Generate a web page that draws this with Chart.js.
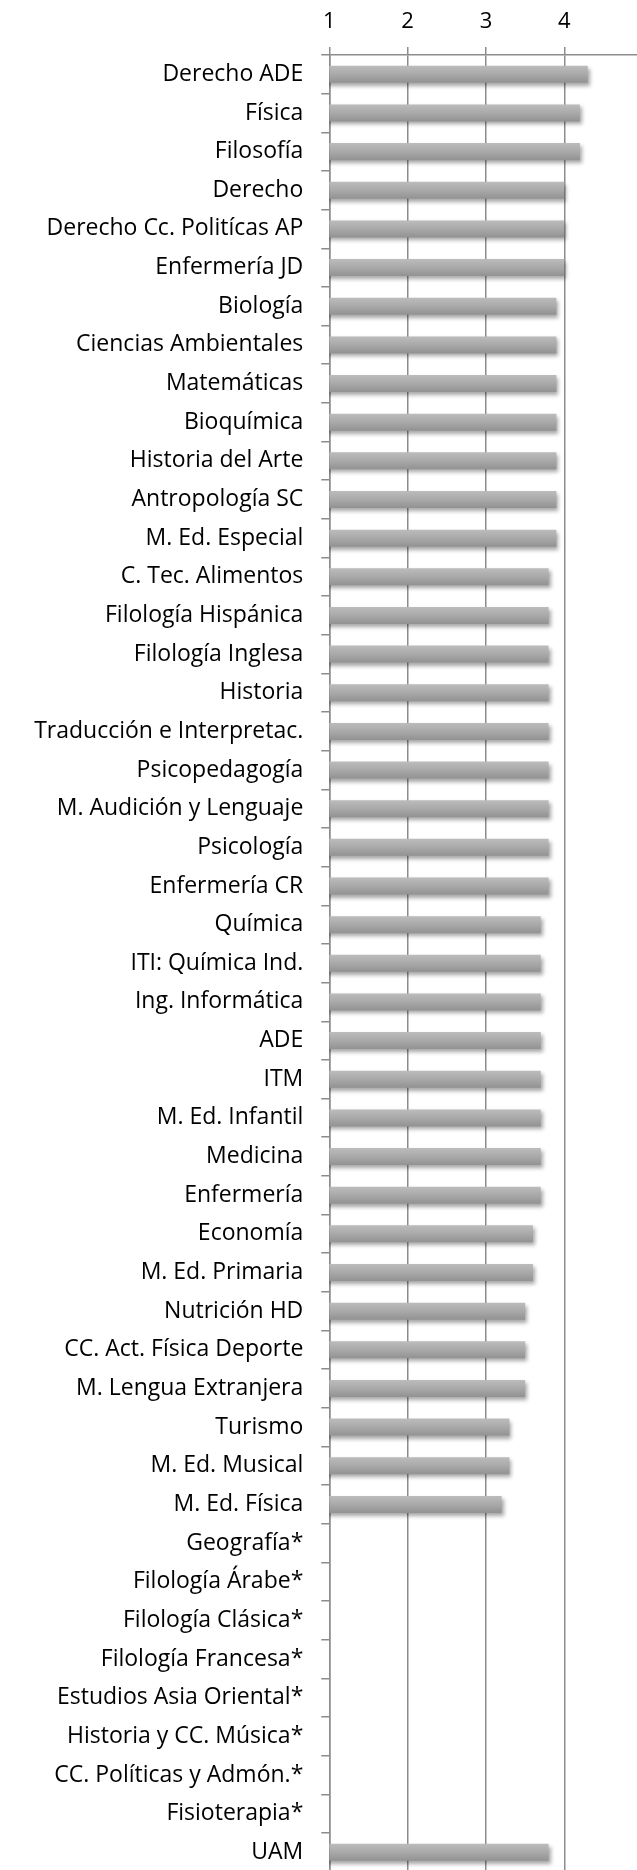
<!DOCTYPE html>
<html>
<head>
<meta charset="utf-8">
<script src="https://cdn.jsdelivr.net/npm/chart.js@4.4.0/dist/chart.umd.min.js"></script>
<style>
  html, body { margin:0; padding:0; background:#fff; overflow:hidden; }
  #wrap { width:637px; height:1870px; overflow:hidden; }
  canvas { display:block; }
</style>
</head>
<body>
<div id="wrap"><canvas id="c" width="660" height="1880" style="width:660px;height:1880px"></canvas></div>
<script>
const carreras = [
  'Derecho ADE', 'Física', 'Filosofía', 'Derecho', 'Derecho Cc. Politícas AP',
  'Enfermería JD', 'Biología', 'Ciencias Ambientales', 'Matemáticas', 'Bioquímica',
  'Historia del Arte', 'Antropología SC', 'M. Ed. Especial', 'C. Tec. Alimentos',
  'Filología Hispánica', 'Filología Inglesa', 'Historia', 'Traducción e Interpretac.',
  'Psicopedagogía', 'M. Audición y Lenguaje', 'Psicología', 'Enfermería CR', 'Química',
  'ITI: Química Ind.', 'Ing. Informática', 'ADE', 'ITM', 'M. Ed. Infantil', 'Medicina',
  'Enfermería', 'Economía', 'M. Ed. Primaria', 'Nutrición HD', 'CC. Act. Física Deporte',
  'M. Lengua Extranjera', 'Turismo', 'M. Ed. Musical', 'M. Ed. Física', 'Geografía*',
  'Filología Árabe*', 'Filología Clásica*', 'Filología Francesa*', 'Estudios Asia Oriental*',
  'Historia y CC. Música*', 'CC. Políticas y Admón.*', 'Fisioterapia*', 'UAM'
];
const valores = [
  4.3, 4.2, 4.2, 4.0, 4.0,
  4.0, 3.9, 3.9, 3.9, 3.9,
  3.9, 3.9, 3.9, 3.8,
  3.8, 3.8, 3.8, 3.8,
  3.8, 3.8, 3.8, 3.8, 3.7,
  3.7, 3.7, 3.7, 3.7, 3.7, 3.7,
  3.7, 3.6, 3.6, 3.5, 3.5,
  3.5, 3.3, 3.3, 3.2, null,
  null, null, null, null,
  null, null, null, 3.8
];
const escalaMin = 1;
const escalaMax = 5;

const gris = '#8c8c8c';

// sombra de las barras (estilo Excel)
const sombra = {
  id: 'sombra',
  beforeDatasetsDraw(chart) {
    const c = chart.ctx;
    c.save();
    c.shadowColor = 'rgba(0,0,0,0.35)';
    c.shadowBlur = 4;
    c.shadowOffsetX = 2;
    c.shadowOffsetY = 3;
  },
  afterDatasetsDraw(chart) { chart.ctx.restore(); }
};

function degradado(ctx) {
  const ch = ctx.chart;
  const y = ch.scales && ch.scales.y;
  if (!y || ctx.type !== 'data') return '#a8a8a8';
  const py = y.getPixelForValue(ctx.dataIndex);
  if (!Number.isFinite(py)) return '#a8a8a8';
  const g = ch.ctx.createLinearGradient(0, py - 8.5, 0, py + 8.5);
  g.addColorStop(0, '#bcbcbc');
  g.addColorStop(0.5, '#a9a9a9');
  g.addColorStop(1, '#929292');
  return g;
}

new Chart(document.getElementById('c'), {
  type: 'bar',
  data: {
    labels: carreras,
    datasets: [{
      data: valores,
      backgroundColor: degradado,
      borderWidth: 0,
      categoryPercentage: 1,
      barPercentage: 0.44
    }]
  },
  options: {
    indexAxis: 'y',
    responsive: false,
    animation: false,
    devicePixelRatio: 1,
    layout: { padding: { left: 0, top: 0, right: 17.4, bottom: 8.4 } },
    plugins: { legend: { display: false }, tooltip: { enabled: false } },
    scales: {
      x: {
        position: 'top',
        min: escalaMin,
        max: escalaMax,
        ticks: { stepSize: 1, color: '#000', padding: 12, font: { family: 'Open Sans', size: 22 } },
        grid: { color: gris, lineWidth: 1.5, tickLength: 8 },
        border: { color: gris, width: 1.5 },
        afterFit(s) { s.height = 55; s.paddingLeft = 0; s.paddingRight = 0; }
      },
      y: {
        ticks: { autoSkip: false, color: '#000', padding: 18, font: { family: 'Open Sans', size: 23 } },
        grid: { drawOnChartArea: false, color: gris, lineWidth: 1.5, tickLength: 8 },
        border: { color: gris, width: 1.5 },
        afterFit(s) { s.width = 329.3; s.paddingTop = 0; s.paddingBottom = 0; }
      }
    }
  },
  plugins: [sombra]
});
</script>
</body>
</html>
